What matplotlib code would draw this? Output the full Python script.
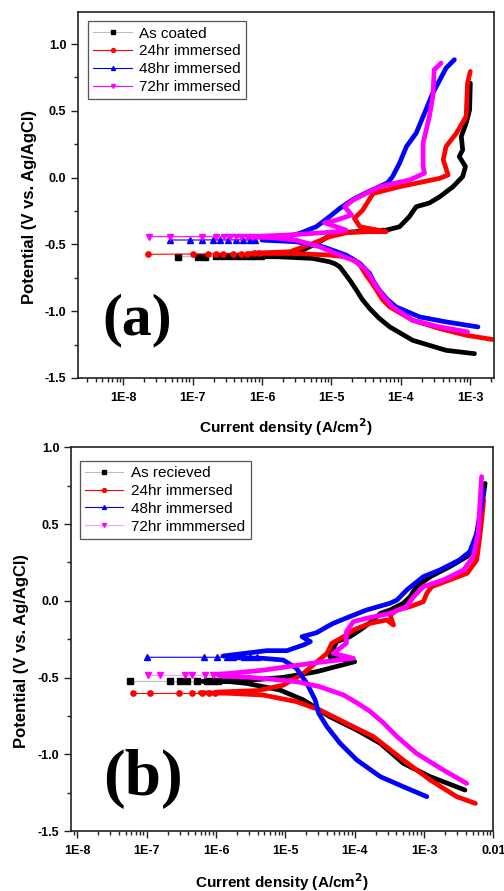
import matplotlib
matplotlib.use('Agg')
import matplotlib.pyplot as plt
from matplotlib.ticker import FixedLocator, LogLocator, NullFormatter, AutoMinorLocator
import numpy as np

plt.rcParams['font.family'] = ['Liberation Sans', 'DejaVu Sans']

# ---------------- panel (a): coated samples ----------------
# log10(current density) and potential
a_names = ['As coated', '24hr immersed', '48hr immersed', '72hr immersed']

a_black_cath_i = [-2.94, -3.35, -3.83, -4.16, -4.32, -4.45, -4.56, -4.64, -4.72, -4.79, -4.88, -4.95, -5.03,
                  -5.27, -5.75, -6.42]
a_black_cath_e = [-1.318, -1.293, -1.218, -1.118, -1.05, -0.98, -0.91, -0.843, -0.78, -0.73, -0.668, -0.645,
                  -0.63, -0.605, -0.593, -0.588]
a_black_anod_i = [-6.2, -5.8, -5.46, -5.17, -4.98, -4.50, -4.21, -4.02, -3.88, -3.78, -3.59, -3.44, -3.25,
                  -3.11, -3.07, -3.16, -3.11, -3.13, -3.06, -3.01, -3.00]
a_black_anod_e = [-0.585, -0.575, -0.555, -0.48, -0.418, -0.398, -0.393, -0.368, -0.293, -0.218, -0.19, -0.143,
                  -0.068, 0.008, 0.083, 0.158, 0.208, 0.308, 0.408, 0.508, 0.708]
a_black_tail_i = [-7.21, -6.92, -6.82, -6.66, -6.56, -6.46, -6.36, -6.27, -6.18, -6.10, -6.02]
a_black_tail_e = [-0.592, -0.591, -0.591, -0.590, -0.590, -0.589, -0.589, -0.588, -0.588, -0.587, -0.587]

a_red_cath_i = [-2.68, -3.06, -3.44, -3.83, -4.16, -4.27, -4.35, -4.43, -4.50, -4.59, -4.71, -4.85, -5.03,
                -5.51, -6.18]
a_red_cath_e = [-1.212, -1.18, -1.13, -1.068, -0.968, -0.91, -0.843, -0.78, -0.73, -0.655, -0.605, -0.59,
                -0.58, -0.568, -0.568]
a_red_anod_i = [-6.1, -5.6, -5.27, -5.03, -4.79, -4.50, -4.21, -4.59, -4.67, -4.55, -4.40, -4.02, -3.44,
                -3.32, -3.39, -3.35, -3.20, -3.06, -3.04, -3.00]
a_red_anod_e = [-0.565, -0.555, -0.493, -0.443, -0.413, -0.405, -0.405, -0.368, -0.305, -0.243, -0.118,
                -0.068, -0.005, 0.02, 0.133, 0.233, 0.333, 0.458, 0.708, 0.795]
a_red_tail_i = [-7.64, -6.99, -6.78, -6.66, -6.57, -6.42, -6.30, -6.22, -6.12, -6.04]
a_red_tail_e = [-0.574, -0.572, -0.571, -0.571, -0.570, -0.570, -0.569, -0.569, -0.568, -0.568]

a_blue_cath_i = [-2.89, -3.35, -3.73, -4.07, -4.20, -4.31, -4.39, -4.45, -4.59, -4.79, -5.12, -5.51, -6.0]
a_blue_cath_e = [-1.118, -1.08, -1.043, -0.968, -0.91, -0.843, -0.78, -0.718, -0.643, -0.58, -0.518, -0.48,
                 -0.468]
a_blue_anod_i = [-6.0, -5.70, -5.46, -5.22, -5.03, -4.88, -4.69, -4.50, -4.19, -4.12, -4.02, -3.92, -3.78,
                 -3.64, -3.54, -3.35, -3.23]
a_blue_anod_e = [-0.462, -0.448, -0.418, -0.368, -0.293, -0.23, -0.163, -0.113, -0.038, 0.008, 0.108, 0.233,
                 0.333, 0.508, 0.633, 0.82, 0.883]
a_blue_tail_i = [-7.33, -7.04, -6.87, -6.70, -6.61, -6.49, -6.38, -6.28, -6.18, -6.10]
a_blue_tail_e = [-0.467, -0.467, -0.467, -0.466, -0.466, -0.466, -0.466, -0.466, -0.466, -0.466]

a_mag_cath_i = [-3.04, -3.44, -3.83, -4.12, -4.25, -4.35, -4.43, -4.50, -4.64, -4.88, -5.17, -5.51, -5.84, -6.2]
a_mag_cath_e = [-1.155, -1.118, -1.068, -0.968, -0.89, -0.818, -0.75, -0.693, -0.63, -0.58, -0.518, -0.468,
                -0.45, -0.444]
a_mag_anod_i = [-6.1, -5.65, -5.27, -4.93, -4.79, -5.10, -4.93, -4.71, -4.81, -4.69, -4.31, -3.88, -3.66,
                -3.68, -3.68, -3.59, -3.54, -3.52, -3.42]
a_mag_anod_e = [-0.44, -0.43, -0.418, -0.405, -0.393, -0.338, -0.318, -0.28, -0.218, -0.168, -0.068, -0.018,
                0.033, 0.083, 0.258, 0.458, 0.608, 0.808, 0.858]
a_mag_tail_i = [-7.63, -7.33, -6.87, -6.66, -6.55, -6.46, -6.38, -6.30, -6.22, -6.15]
a_mag_tail_e = [-0.442, -0.442, -0.442, -0.442, -0.442, -0.442, -0.442, -0.441, -0.441, -0.441]

# ---------------- panel (b): as received samples ----------------
b_names = ['As recieved', '24hr immersed', '48hr immersed', '72hr immmersed']

b_black_cath_i = [-2.41, -2.91, -3.30, -3.63, -3.97, -4.36, -4.74, -5.08, -5.56, -5.80, -6.2]
b_black_cath_e = [-1.233, -1.146, -1.059, -0.929, -0.842, -0.755, -0.646, -0.581, -0.538, -0.527, -0.525]
b_black_anod_i = [-6.0, -5.46, -5.03, -4.55, -4.00, -4.36, -4.26, -4.07, -3.92, -3.73, -3.63, -3.49, -3.30,
                  -3.20, -3.11, -2.91, -2.63, -2.38, -2.29, -2.19, -2.12]
b_black_anod_e = [-0.522, -0.515, -0.499, -0.462, -0.397, -0.364, -0.266, -0.234, -0.19, -0.125, -0.082,
                  -0.06, -0.016, 0.027, 0.092, 0.157, 0.222, 0.288, 0.331, 0.548, 0.765]
b_black_tail_i = [-7.24, -6.66, -6.52, -6.42, -6.28, -6.13, -6.05, -5.97]
b_black_tail_e = [-0.525, -0.525, -0.525, -0.525, -0.525, -0.525, -0.525, -0.525]

b_red_cath_i = [-2.26, -2.53, -2.91, -3.30, -3.73, -4.12, -4.50, -4.84, -5.32, -5.80, -6.23]
b_red_cath_e = [-1.32, -1.276, -1.168, -1.037, -0.885, -0.798, -0.712, -0.657, -0.614, -0.603, -0.599]
b_red_anod_i = [-6.0, -5.4, -5.03, -4.74, -4.55, -4.40, -4.33, -4.16, -4.02, -3.78, -3.54, -3.44, -3.49,
                -3.39, -3.20, -3.01, -2.96, -2.89, -2.63, -2.38, -2.24, -2.19, -2.14]
b_red_anod_e = [-0.595, -0.585, -0.55, -0.473, -0.40, -0.342, -0.277, -0.234, -0.19, -0.147, -0.125,
                -0.158, -0.093, -0.06, -0.038, -0.006, 0.049, 0.092, 0.136, 0.179, 0.266, 0.44, 0.657]
b_red_tail_i = [-7.20, -6.95, -6.54, -6.35, -6.20, -6.10, -6.02]
b_red_tail_e = [-0.598, -0.598, -0.598, -0.598, -0.598, -0.598, -0.598]

b_blue_cath_i = [-2.96, -3.30, -3.63, -3.97, -4.21, -4.40, -4.52, -4.57, -4.69, -4.84, -5.03, -5.32, -5.8]
b_blue_cath_e = [-1.276, -1.211, -1.146, -1.037, -0.929, -0.82, -0.733, -0.646, -0.538, -0.44, -0.386,
                 -0.375, -0.37]
b_blue_anod_i = [-5.9, -5.27, -4.98, -4.74, -4.64, -4.76, -4.55, -4.40, -4.31, -4.07, -3.83, -3.49, -3.39,
                 -3.25, -3.01, -2.77, -2.49, -2.34, -2.24, -2.14]
b_blue_anod_e = [-0.36, -0.325, -0.325, -0.288, -0.266, -0.234, -0.208, -0.169, -0.147, -0.103, -0.06,
                 -0.016, 0.005, 0.07, 0.157, 0.201, 0.266, 0.32, 0.44, 0.722]
b_blue_tail_i = [-7.0, -6.18, -5.99, -5.84, -5.75, -5.60, -5.51, -5.41]
b_blue_tail_e = [-0.368, -0.368, -0.368, -0.368, -0.368, -0.367, -0.367, -0.366]

b_mag_cath_i = [-2.385, -2.72, -3.11, -3.39, -3.60, -3.78, -3.95, -4.16, -4.50, -4.84, -5.17, -5.51, -5.9]
b_mag_cath_e = [-1.19, -1.103, -0.994, -0.885, -0.79, -0.72, -0.67, -0.614, -0.56, -0.527, -0.512, -0.499,
                -0.49]
b_mag_anod_i = [-6.0, -5.80, -5.32, -4.64, -4.02, -4.31, -4.12, -4.12, -4.02, -3.83, -3.49, -3.25, -3.15,
                -3.01, -2.72, -2.43, -2.29, -2.22, -2.17]
b_mag_anod_e = [-0.48, -0.473, -0.452, -0.408, -0.375, -0.342, -0.277, -0.201, -0.136, -0.114, -0.082,
                -0.038, 0.027, 0.092, 0.136, 0.201, 0.288, 0.44, 0.809]
b_mag_tail_i = [-6.98, -6.81, -6.45, -6.35, -6.16, -6.05, -5.95]
b_mag_tail_e = [-0.485, -0.485, -0.485, -0.485, -0.485, -0.485, -0.485]

# ticks
a_xticks = [1e-8, 1e-7, 1e-6, 1e-5, 1e-4, 1e-3]
a_xticklabels = ['1E-8', '1E-7', '1E-6', '1E-5', '1E-4', '1E-3']
b_xticks = [1e-8, 1e-7, 1e-6, 1e-5, 1e-4, 1e-3, 1e-2]
b_xticklabels = ['1E-8', '1E-7', '1E-6', '1E-5', '1E-4', '1E-3', '0.01']
yticks = [-1.5, -1.0, -0.5, 0.0, 0.5, 1.0]
yticklabels = ['-1.5', '-1.0', '-0.5', '0.0', '0.5', '1.0']

colors = ['#000000', '#ff0000', '#0000ff', '#ff00ff']
markers = ['s', 'o', '^', 'v']
a_tail_colors = ['#bdbdbd', '#ff0000', '#0000ff', '#ff00ff']
b_tail_colors = ['#bdbdbd', '#ff0000', '#0000ff', '#ff9cff']

a_curves = [
    (a_black_cath_i, a_black_cath_e, a_black_anod_i, a_black_anod_e, a_black_tail_i, a_black_tail_e),
    (a_red_cath_i, a_red_cath_e, a_red_anod_i, a_red_anod_e, a_red_tail_i, a_red_tail_e),
    (a_blue_cath_i, a_blue_cath_e, a_blue_anod_i, a_blue_anod_e, a_blue_tail_i, a_blue_tail_e),
    (a_mag_cath_i, a_mag_cath_e, a_mag_anod_i, a_mag_anod_e, a_mag_tail_i, a_mag_tail_e),
]
b_curves = [
    (b_black_cath_i, b_black_cath_e, b_black_anod_i, b_black_anod_e, b_black_tail_i, b_black_tail_e),
    (b_red_cath_i, b_red_cath_e, b_red_anod_i, b_red_anod_e, b_red_tail_i, b_red_tail_e),
    (b_blue_cath_i, b_blue_cath_e, b_blue_anod_i, b_blue_anod_e, b_blue_tail_i, b_blue_tail_e),
    (b_mag_cath_i, b_mag_cath_e, b_mag_anod_i, b_mag_anod_e, b_mag_tail_i, b_mag_tail_e),
]


def draw_panel(ax, curves, names, tail_colors, xlim, xticks, xticklabels, ylim,
               letter, letter_xy, letter_size, legend_xy, xlabel_xy, ylabel_xy):
    for (ci, ce, ai, ae, ti, te), name, col, mk, tcol in zip(curves, names, colors, markers, tail_colors):
        ax.plot(10 ** np.array(ti), te, color=tcol, lw=0.8, marker=mk, ms=3.8,
                mfc=col, mec=col, label=name)
        ax.plot(10 ** np.array(ci), ce, color=col, lw=3.4, solid_joinstyle='round',
                solid_capstyle='round')
        ax.plot(10 ** np.array(ai), ae, color=col, lw=3.4, solid_joinstyle='round',
                solid_capstyle='round')

    ax.set_xscale('log')
    ax.set_xlim(*xlim)
    ax.set_ylim(*ylim)
    ax.xaxis.set_major_locator(FixedLocator(xticks))
    ax.set_xticklabels(xticklabels)
    ax.xaxis.set_minor_locator(LogLocator(base=10, subs=np.arange(2, 10), numticks=30))
    ax.xaxis.set_minor_formatter(NullFormatter())
    ax.set_yticks(yticks)
    ax.set_yticklabels(yticklabels)
    ax.yaxis.set_minor_locator(AutoMinorLocator(2))

    ax.tick_params(which='both', direction='out', top=False, right=False, width=1.0, color='#222222')
    ax.tick_params(which='major', length=5, labelsize=9)
    ax.tick_params(which='minor', length=3)
    ax.tick_params(axis='x', which='major', pad=5)
    ax.tick_params(axis='y', which='major', pad=3.5)
    for lbl in ax.get_xticklabels() + ax.get_yticklabels():
        lbl.set_fontweight('bold')
    for sp in ax.spines.values():
        sp.set_linewidth(1.2)
        sp.set_color('#222222')

    ax.set_xlabel('Current density (A/cm$^\\mathbf{2}$)', fontsize=11, fontweight='bold')
    ax.set_ylabel('Potential (V vs. Ag/AgCl)', fontsize=12, fontweight='bold')
    ax.xaxis.set_label_coords(*xlabel_xy)
    ax.xaxis.label.set_va('center')
    ax.yaxis.set_label_coords(*ylabel_xy)
    ax.yaxis.label.set_va('center')

    ax.text(letter_xy[0], letter_xy[1], letter, transform=ax.transAxes, fontsize=letter_size,
            fontweight='bold', family='Liberation Serif', ha='center', va='center')

    leg = ax.legend(loc='upper left', bbox_to_anchor=legend_xy, borderaxespad=0, fontsize=11,
                    frameon=True, fancybox=False, framealpha=1, edgecolor='#555555', markerscale=0.75,
                    handlelength=2.5, handletextpad=0.5, labelspacing=0.25, borderpad=0.35)
    leg.get_frame().set_linewidth(0.9)


fig = plt.figure(figsize=(5.04, 8.91), dpi=100)
ax_a = fig.add_axes([0.155, 0.5758, 0.825, 0.4107])
ax_b = fig.add_axes([0.141, 0.0673, 0.838, 0.4307])

draw_panel(ax_a, a_curves, a_names, a_tail_colors, (10 ** -8.65, 10 ** -2.66), a_xticks, a_xticklabels,
           (-1.5, 1.24), '(a)', (0.142, 0.158), 43, (0.024, 0.975), (0.5, -0.134), (-0.118, 0.468))
draw_panel(ax_b, b_curves, b_names, b_tail_colors, (10 ** -8.09, 10 ** -2.0), b_xticks, b_xticklabels,
           (-1.5, 1.0), '(b)', (0.17, 0.136), 47, (0.021, 0.965), (0.5, -0.132), (-0.117, 0.47))

fig.savefig('out.png', dpi=100, facecolor='white')
